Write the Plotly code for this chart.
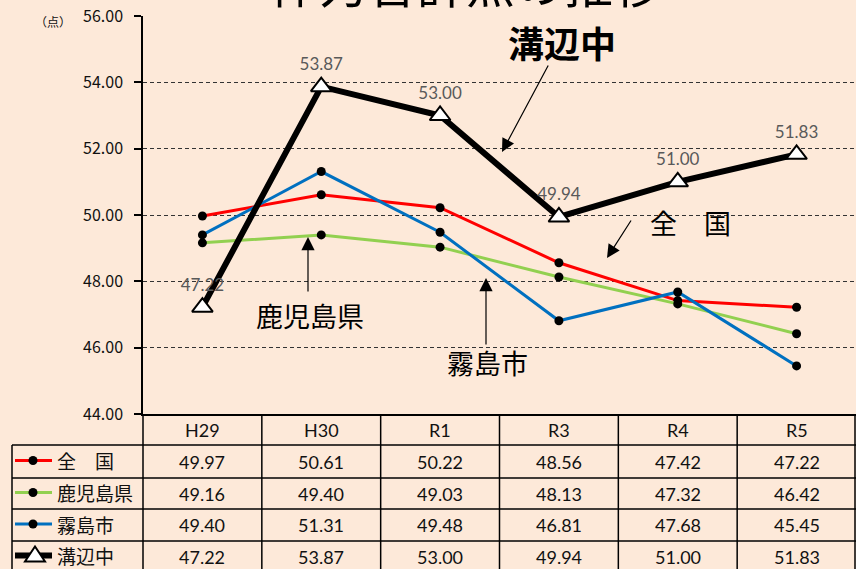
import plotly.graph_objects as go

categories = ["H29", "H30", "R1", "R3", "R4", "R5"]
zenkoku = [49.97, 50.61, 50.22, 48.56, 47.42, 47.22]
kagoshima = [49.16, 49.40, 49.03, 48.13, 47.32, 46.42]
kirishima = [49.40, 51.31, 49.48, 46.81, 47.68, 45.45]
mizobe = [47.22, 53.87, 53.00, 49.94, 51.00, 51.83]
series_names = ["全　国", "鹿児島県", "霧島市", "溝辺中"]
y_ticks = [44, 46, 48, 50, 52, 54, 56]
title_text = "体力合計点の推移"

W, H = 856, 569
L, R, T, B = 143, 0, 16, 155
PW = W - L - R
PH = H - T - B
BASE = H - B  # pixel y of plot bottom

def px(x):
    return (x - L) / PW

def py(y):
    return (BASE - y) / PH

BG = "#FDE9D9"
CJK = "Noto Sans CJK JP"
NUM = "Lato"
colors = ["#FF0000", "#92D050", "#0070C0", "#000000"]
series = [zenkoku, kagoshima, kirishima, mizobe]

xs = list(range(len(categories)))
fig = go.Figure()
for i in range(3):
    fig.add_trace(go.Scatter(
        x=xs, y=series[i], mode="lines+markers", name=series_names[i],
        line=dict(color=colors[i], width=3),
        marker=dict(color="black", size=9),
        cliponaxis=False))
fig.add_trace(go.Scatter(
    x=xs, y=mizobe, mode="lines+markers+text", name=series_names[3],
    line=dict(color="black", width=6),
    marker=dict(symbol="triangle-up", size=18, color="white",
                line=dict(color="black", width=2)),
    text=[f"{v:.2f}" for v in mizobe], textposition="top center",
    textfont=dict(family=NUM, size=17, color="#595959"),
    cliponaxis=False))

shapes = []
ann = []
LC = "#000000"
# table lines
col_edges = [143 + k * PW / 6 for k in range(7)]
row_lines = [415, 445, 478, 509, 541, 572]
row_centers = [430, 461.5, 493.5, 525, 556.5]
for k, xe in enumerate(col_edges):
    xe = min(xe, 855)
    shapes.append(dict(type="line", xref="paper", yref="paper",
                       x0=px(xe), x1=px(xe), y0=py(415), y1=py(575),
                       line=dict(color=LC, width=1.5)))
shapes.append(dict(type="line", xref="paper", yref="paper",
                   x0=px(12), x1=px(12), y0=py(445), y1=py(575),
                   line=dict(color=LC, width=1.5)))
for j, yl in enumerate(row_lines):
    x0 = 143 if j == 0 else 12
    shapes.append(dict(type="line", xref="paper", yref="paper",
                       x0=px(x0), x1=px(856), y0=py(yl), y1=py(yl),
                       line=dict(color=LC, width=1.5)))

# header and values
for i, c in enumerate(categories):
    ann.append(dict(x=i, xref="x", y=py(row_centers[0]), yref="paper",
                    xanchor="center", yanchor="middle",
                    text=c, showarrow=False,
                    font=dict(family=NUM, size=18, color="#111")))
    for r in range(4):
        ann.append(dict(x=i, xref="x", y=py(row_centers[r + 1]), yref="paper",
                        xanchor="center", yanchor="middle",
                        text=f"{series[r][i]:.2f}", showarrow=False,
                        font=dict(family=NUM, size=18, color="#111")))

# legend cells
for r in range(4):
    yc = row_centers[r + 1] - 1
    if r < 3:
        shapes.append(dict(type="line", xref="paper", yref="paper",
                           x0=px(15), x1=px(52), y0=py(yc), y1=py(yc),
                           line=dict(color=colors[r], width=3)))
        shapes.append(dict(type="circle", xref="paper", yref="paper",
                           xsizemode="pixel", ysizemode="pixel",
                           xanchor=px(33), yanchor=py(yc),
                           x0=-4.5, x1=4.5, y0=-4.5, y1=4.5,
                           fillcolor="black", line=dict(color="black", width=0)))
    else:
        shapes.append(dict(type="line", xref="paper", yref="paper",
                           x0=px(15), x1=px(52), y0=py(yc), y1=py(yc),
                           line=dict(color="black", width=6)))
        shapes.append(dict(type="path", xref="paper", yref="paper",
                           xsizemode="pixel", ysizemode="pixel",
                           xanchor=px(35), yanchor=py(yc),
                           path="M-10,-6 L10,-6 L0,9 Z",
                           fillcolor="white", line=dict(color="black", width=2)))
    ann.append(dict(x=px(55), xref="paper", y=py(yc), yref="paper",
                    xanchor="left", yanchor="middle",
                    text=series_names[r], showarrow=False,
                    font=dict(family=CJK, size=19, color="#111")))

# callout labels
def dx(p):
    return (p - L) / (PW / 6) - 0.5

def dy(p):
    return 56 - (p - T) / (PH / 12)

ann.append(dict(x=dx(562), y=dy(42), xref="x", yref="y", text="<b>溝辺中</b>",
                xanchor="center", yanchor="middle",
                showarrow=False, font=dict(family=CJK, size=36, color="black")))
ann.append(dict(x=dx(690), y=dy(222), xref="x", yref="y", text="全　国",
                xanchor="center", yanchor="middle",
                showarrow=False, font=dict(family=CJK, size=27, color="black")))
ann.append(dict(x=dx(310), y=dy(315), xref="x", yref="y", text="鹿児島県",
                xanchor="center", yanchor="middle",
                showarrow=False, font=dict(family=CJK, size=27, color="black")))
ann.append(dict(x=dx(487), y=dy(362), xref="x", yref="y", text="霧島市",
                xanchor="center", yanchor="middle",
                showarrow=False, font=dict(family=CJK, size=27, color="black")))

arrows = [((549, 64), (502, 152)), ((632, 219), (607, 258)),
          ((308, 293), (308, 237)), ((486, 346), (486, 278))]
for (tx, ty), (hx, hy) in arrows:
    ann.append(dict(x=dx(hx), y=dy(hy), ax=dx(tx), ay=dy(ty), xref="x", yref="y",
                    axref="x", ayref="y", text="", showarrow=True,
                    arrowhead=2, arrowsize=2.2, arrowwidth=1.2, arrowcolor="black"))

ann.append(dict(x=px(53), y=py(21), xref="paper", yref="paper", text="（点）",
                xanchor="center", yanchor="middle",
                showarrow=False, font=dict(family=CJK, size=12, color="#111")))
ann.append(dict(x=px(466), y=py(-19), xref="paper", yref="paper", text=title_text,
                showarrow=False, xanchor="center", yanchor="middle",
                font=dict(family=CJK, size=49, color="black")))

fig.update_layout(
    width=W, height=H, margin=dict(l=L, r=R, t=T, b=B),
    paper_bgcolor=BG, plot_bgcolor=BG, showlegend=False,
    shapes=shapes, annotations=ann,
    xaxis=dict(range=[-0.5, 5.5], showticklabels=False, showgrid=False,
               zeroline=False, showline=True, linecolor="black", linewidth=1.5,
               ticks=""),
    yaxis=dict(range=[44, 56], tickvals=y_ticks,
               ticktext=[f"{v:.2f}" for v in y_ticks],
               showgrid=True, gridcolor="#333333", griddash="4px,3px", gridwidth=1,
               zeroline=False, showline=True, linecolor="black", linewidth=1.5,
               ticks="outside", ticklen=7, tickcolor="black", tickwidth=1.5,
               ticklabelstandoff=8,
               tickfont=dict(family=CJK, size=16, color="#111")),
)

fig.write_html("out.html", config={"displayModeBar": False},
               post_script="document.body.style.margin='0px';")
